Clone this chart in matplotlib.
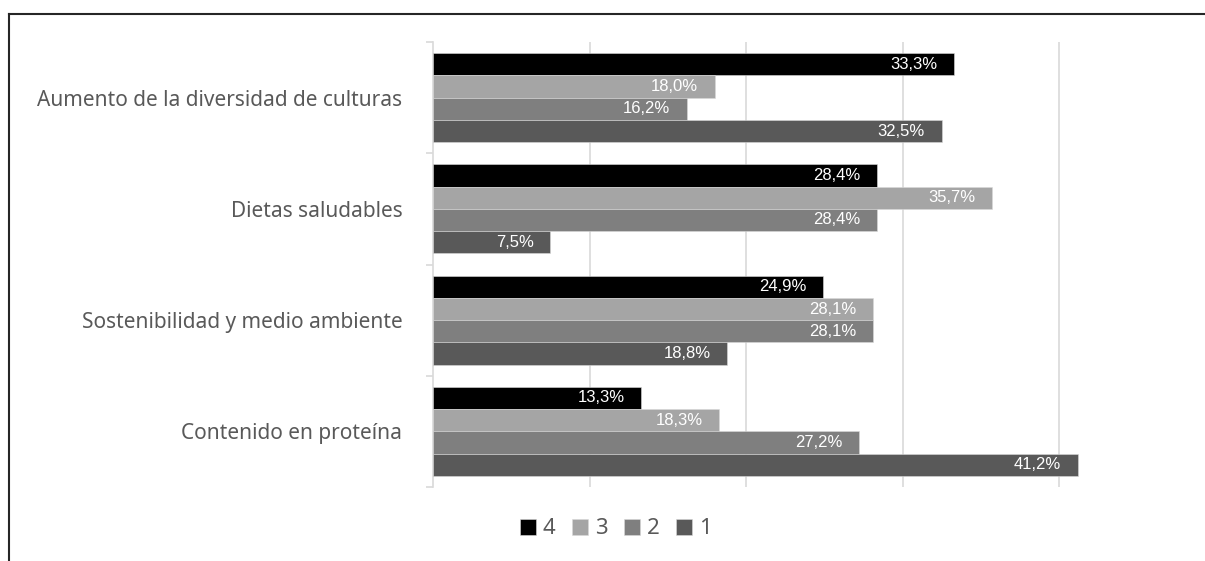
import matplotlib.pyplot as plt
from matplotlib.lines import Line2D

# datos
categorias = ["Aumento de la diversidad de culturas", "Dietas saludables",
              "Sostenibilidad y medio ambiente", "Contenido en proteína"]
series = ["4", "3", "2", "1"]
s4 = [33.3, 28.4, 24.9, 13.3]
s3 = [18.0, 35.7, 28.1, 18.3]
s2 = [16.2, 28.4, 28.1, 27.2]
s1 = [32.5, 7.5, 18.8, 41.2]
valores = [s4, s3, s2, s1]
colores = ["#000000", "#a5a5a5", "#7f7f7f", "#595959"]

fig = plt.figure(figsize=(12.05, 5.61), dpi=100)
ax = fig.add_axes([433 / 1205, 74 / 561, 45 * 15.65 / 1205, 445 / 561])

n = len(categorias)
ypos = [n - 1 - i for i in range(n)]
desp = [0.3, 0.1, -0.1, -0.3]

for s, vals, col, d in zip(series, valores, colores, desp):
    yy = [y + d for y in ypos]
    bars = ax.barh(yy, vals, height=0.2, color=col, label=s,
                   edgecolor="#d9d9d9", linewidth=0.4, zorder=3)
    for b, v in zip(bars, vals):
        ax.annotate(f"{v:.1f}%".replace(".", ","),
                    (v, b.get_y() + b.get_height() / 2),
                    xytext=(-12, 0), textcoords="offset points",
                    ha="right", va="center", color="white", fontsize=12,
                    family="Liberation Sans", zorder=4)

ax.set_xlim(0, 45)
ax.set_ylim(-0.5, n - 0.5)
ax.set_xticks([10, 20, 30, 40])
ax.set_xticklabels([])
ax.tick_params(axis="x", length=0)
ax.grid(axis="x", color="#d9d9d9", linewidth=1.2, zorder=0)

ax.set_yticks(ypos)
ax.set_yticklabels(categorias, fontsize=15, color="#595959", family="Noto Sans")
ax.tick_params(axis="y", length=0, pad=22)
ax.set_yticks([-0.5, 0.5, 1.5, 2.5, 3.5], minor=True)
ax.tick_params(axis="y", which="minor", length=5, color="#d9d9d9", width=1.2)

for sp in ["top", "right", "bottom"]:
    ax.spines[sp].set_visible(False)
ax.spines["left"].set_color("#d9d9d9")
ax.spines["left"].set_linewidth(1.2)

leg = ax.legend(loc="center", bbox_to_anchor=(616 / 1205, 1 - 529 / 561),
                bbox_transform=fig.transFigure, ncol=4, frameon=False,
                handlelength=0.7, handleheight=0.7, handletextpad=0.32,
                columnspacing=0.75, prop={"family": "Noto Sans", "size": 16})
for t in leg.get_texts():
    t.set_color("#595959")

# marco
fig.add_artist(Line2D([9 / 1205, 1], [1 - 14 / 561] * 2, color="#262626",
                      linewidth=1.5, transform=fig.transFigure))
fig.add_artist(Line2D([9 / 1205] * 2, [0, 1 - 14 / 561], color="#262626",
                      linewidth=1.5, transform=fig.transFigure))

fig.savefig("out.png", dpi=100)
